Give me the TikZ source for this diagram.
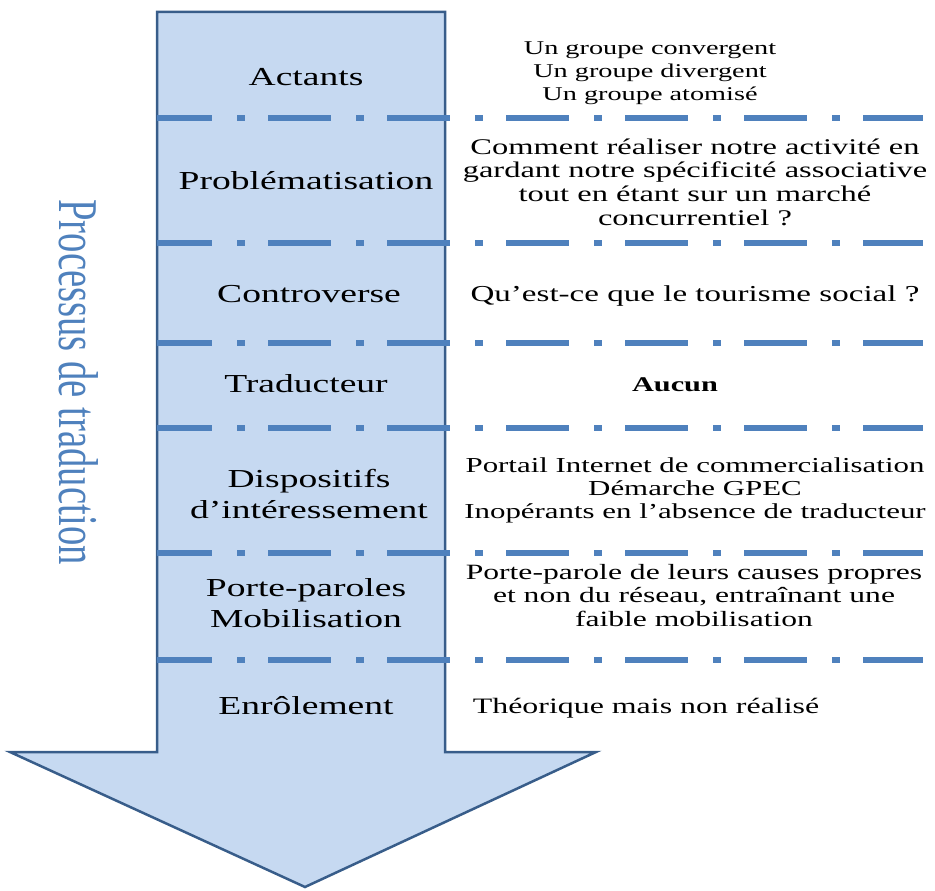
\documentclass[tikz,border=0pt]{standalone}
\usepackage{fontspec}
\setmainfont{Liberation Serif}
\usepackage{graphicx}
\definecolor{arrowfill}{HTML}{C6D9F1}
\definecolor{arrowedge}{HTML}{385D8A}
\definecolor{lineblue}{HTML}{4F81BD}
\newcommand\hx[2]{\scalebox{#1}[1]{\begin{tabular}[t]{@{}c@{}}#2\end{tabular}}}
\begin{document}
\begin{tikzpicture}[x=1pt,y=-1pt,
  lab/.style={anchor=base, inner sep=0pt, font=\fontsize{25.9}{31}\selectfont},
  txt/.style={anchor=base, inner sep=0pt},
  sep/.style={draw=lineblue, line width=5.5pt, dash pattern=on 63pt off 25pt on 8pt off 23pt, dash phase=8pt}]
\useasboundingbox (0,0) rectangle (935,891);
\draw[fill=arrowfill, draw=arrowedge, line width=2.5pt, line join=miter]
  (157,12) -- (445,12) -- (445,752) -- (596,752) -- (305,887) -- (10,752) -- (157,752) -- cycle;
\foreach \yy in {118,243,343,428,553,660}
  \draw[sep] (157,\yy) -- (923,\yy);
% vertical title
\node[rotate=-90, anchor=base, inner sep=0pt, text=lineblue, font=\fontsize{38.7}{40}\selectfont]
  (titre) at (59,382) {\scalebox{1}[1.45]{Processus de traduction}};
% left labels
\node[lab] (actants) at (306,85) {\hx{1.45}{Actants}};
\node[lab] (probl) at (306,189) {\hx{1.45}{Problématisation}};
\node[lab] (contro) at (309,302) {\hx{1.45}{Controverse}};
\node[lab] (trad) at (306,392) {\hx{1.45}{Traducteur}};
\node[lab] (dispo) at (309,487) {\hx{1.45}{Dispositifs\\d’intéressement}};
\node[lab] (porte) at (306,596) {\hx{1.45}{Porte-paroles\\Mobilisation}};
\node[lab] (enrol) at (306,714) {\hx{1.45}{Enrôlement}};
% right texts
\node[txt, font=\fontsize{19.5}{23}\selectfont] (tactants) at (650,55)
  {\hx{1.45}{Un groupe convergent\\Un groupe divergent\\Un groupe atomisé}};
\node[txt, font=\fontsize{22.4}{23.7}\selectfont] (tprobl) at (695,154)
  {\hx{1.45}{Comment réaliser notre activité en\\gardant notre spécificité associative\\tout en étant sur un marché\\concurrentiel ?}};
\node[txt, font=\fontsize{22.8}{24}\selectfont] (tcontro) at (695,301) {\hx{1.45}{Qu’est-ce que le tourisme social ?}};
\node[txt, font=\fontsize{20.9}{22}\selectfont] (ttrad) at (675,391) {\hx{1.45}{\textbf{Aucun}}};
\node[txt, font=\fontsize{21.3}{23}\selectfont] (tdispo) at (695,472)
  {\hx{1.45}{Portail Internet de commercialisation\\Démarche GPEC\\Inopérants en l’absence de traducteur}};
\node[txt, font=\fontsize{21.8}{23.5}\selectfont] (tporte) at (694,579)
  {\hx{1.45}{Porte-parole de leurs causes propres\\et non du réseau, entraînant une\\faible mobilisation}};
\node[txt, font=\fontsize{22}{23}\selectfont] (tenrol) at (646,713) {\hx{1.45}{Théorique mais non réalisé}};
\end{tikzpicture}
\end{document}
